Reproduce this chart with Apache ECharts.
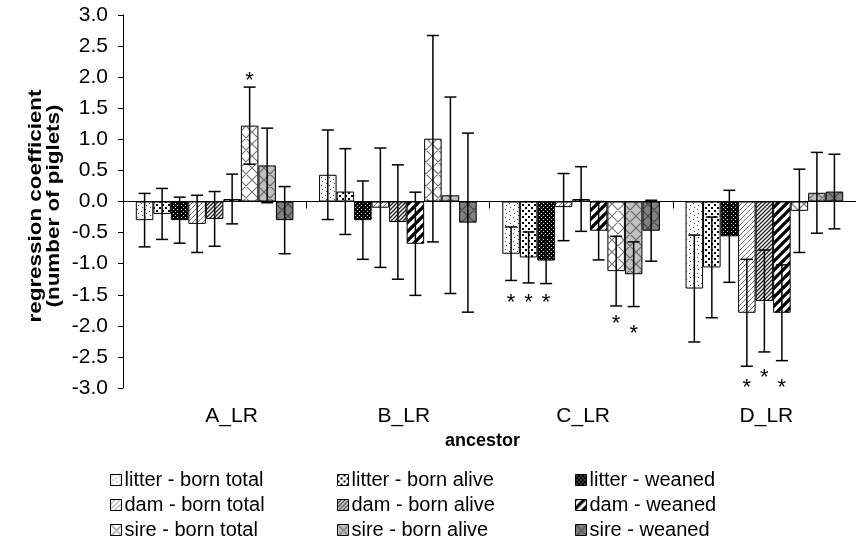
<!DOCTYPE html>
<html>
<head>
<meta charset="utf-8">
<script src="https://cdn.jsdelivr.net/npm/echarts@6/dist/echarts.min.js"></script>
<style>
  html, body { margin: 0; padding: 0; background: #fff; }
  #main { width: 856px; height: 542px; }
</style>
</head>
<body>
<div id="main"></div>
<script>
// categories (ancestors)
const ancestors = ['A_LR', 'B_LR', 'C_LR', 'D_LR'];

// regression coefficients per trait, one value per ancestor
const litterBornTotal = [-0.30, 0.43, -0.84, -1.40];
const litterBornAlive = [-0.20, 0.16, -0.90, -1.06];
const litterWeaned    = [-0.30, -0.30, -0.95, -0.56];
const damBornTotal    = [-0.36, -0.10, -0.09, -1.79];
const damBornAlive    = [-0.28, -0.33, 0.04, -1.60];
const damWeaned       = [0.04, -0.68, -0.47, -1.79];
const sireBornTotal   = [1.22, 1.01, -1.12, -0.15];
const sireBornAlive   = [0.58, 0.10, -1.17, 0.14];
const sireWeaned      = [-0.30, -0.34, -0.47, 0.16];

// error bar half widths
const litterBornTotalErr = [0.43, 0.72, 0.43, 0.86];
const litterBornAliveErr = [0.41, 0.69, 0.41, 0.81];
const litterWeanedErr    = [0.37, 0.63, 0.37, 0.74];
const damBornTotalErr    = [0.46, 0.96, 0.54, 0.86];
const damBornAliveErr    = [0.44, 0.92, 0.52, 0.82];
const damWeanedErr       = [0.40, 0.83, 0.47, 0.77];
const sireBornTotalErr   = [0.62, 1.66, 0.56, 0.67];
const sireBornAliveErr   = [0.60, 1.58, 0.52, 0.65];
const sireWeanedErr      = [0.54, 1.44, 0.49, 0.60];

// significance marks: [ancestor index, series index, value where the star sits]
const stars = [
  [0, 6, 2.0],
  [2, 0, -1.56], [2, 1, -1.56], [2, 2, -1.56],
  [2, 6, -1.91], [2, 7, -2.06],
  [3, 3, -2.93], [3, 4, -2.78], [3, 5, -2.93]
];

const yTicks = { min: -3, max: 3, step: 0.5 };

const seriesNames = [
  'litter - born total', 'litter - born alive', 'litter - weaned',
  'dam - born total', 'dam - born alive', 'dam - weaned',
  'sire - born total', 'sire - born alive', 'sire - weaned'
];
const seriesValues = [litterBornTotal, litterBornAlive, litterWeaned,
  damBornTotal, damBornAlive, damWeaned, sireBornTotal, sireBornAlive, sireWeaned];
const seriesErrors = [litterBornTotalErr, litterBornAliveErr, litterWeanedErr,
  damBornTotalErr, damBornAliveErr, damWeanedErr, sireBornTotalErr, sireBornAliveErr, sireWeanedErr];

// ---- fill patterns ----
function tile(w, h, bg, draw) {
  const c = document.createElement('canvas');
  c.width = w; c.height = h;
  const g = c.getContext('2d');
  g.fillStyle = bg;
  g.fillRect(0, 0, w, h);
  draw(g, w, h);
  return { image: c, repeat: 'repeat' };
}
function dots(list, color, size) {
  return g => {
    g.fillStyle = color;
    list.forEach(p => g.fillRect(p[0], p[1], size, size));
  };
}
function diag(color, width, both) {
  return (g, s) => {
    g.strokeStyle = color;
    g.lineWidth = width;
    g.beginPath();
    for (let k = -1; k <= 1; k++) {
      g.moveTo(k * s - 1, s + 1); g.lineTo(k * s + s + 1, -1);
      if (both) { g.moveTo(k * s - 1, -1); g.lineTo(k * s + s + 1, s + 1); }
    }
    g.stroke();
  };
}
const patterns = [
  tile(8, 8, '#fff', dots([[1, 1], [5, 3], [2, 5], [6, 7]], '#444', 1)),
  tile(6, 6, '#fff', dots([[0, 0], [3, 3]], '#000', 2)),
  tile(4, 4, '#000', dots([[1, 1], [3, 3]], '#ddd', 1)),
  tile(5, 5, '#fff', diag('#777', 1, false)),
  tile(4, 4, '#fff', diag('#222', 1.3, false)),
  tile(9, 9, '#fff', diag('#000', 3.2, false)),
  tile(12, 12, '#fff', diag('#777', 1.2, true)),
  tile(12, 12, '#c0c0c0', diag('#666', 1.2, true)),
  tile(12, 12, '#808080', diag('#444', 1.2, true))
];

const CAT_GAP = 0.14;
const FONT = 'Liberation Sans';

function barOffset(api, s) {
  const band = api.size([1, 0])[0];
  const w = band * (1 - CAT_GAP) / seriesNames.length;
  return (s - (seriesNames.length - 1) / 2) * w;
}

const errData = [];
seriesValues.forEach((vals, s) => {
  vals.forEach((v, c) => errData.push([c, s, v - seriesErrors[s][c], v + seriesErrors[s][c]]));
});

const barSeries = seriesNames.map((name, s) => ({
  name: name,
  type: 'bar',
  xAxisIndex: 0,
  data: seriesValues[s],
  barGap: '0%',
  barCategoryGap: (CAT_GAP * 100) + '%',
  itemStyle: { color: patterns[s], borderColor: '#000', borderWidth: 1 },
  emphasis: { disabled: true },
  z: 2
}));

const labelShift = [17, 6, 2, 2];
const rich = {};
labelShift.forEach((d, i) => {
  rich['p' + i] = { fontFamily: FONT, fontSize: 21, color: '#000', padding: [0, 0, 0, 2 * d] };
});

const option = {
  animation: false,
  backgroundColor: '#fff',
  grid: { left: 123, right: -6, top: 15, bottom: 154 },
  xAxis: [{
    type: 'category',
    data: ancestors,
    axisLine: { onZero: true, lineStyle: { color: '#000', width: 1 } },
    axisTick: { show: true, interval: 0, length: 7, lineStyle: { color: '#000' } },
    axisLabel: { show: false },
    splitLine: { show: false }
  }, {
    type: 'category',
    data: ancestors,
    position: 'bottom',
    axisLine: { show: false, onZero: false },
    axisTick: { show: false },
    axisLabel: {
      margin: 18,
      formatter: (v, i) => '{p' + i + '|' + v + '}',
      rich: rich
    },
    name: 'ancestor',
    nameLocation: 'middle',
    nameGap: 28,
    nameTextStyle: { fontFamily: FONT, fontWeight: 'bold', fontSize: 18, color: '#000', padding: [0, 14, 0, 0] }
  }],
  yAxis: {
    type: 'value',
    min: yTicks.min, max: yTicks.max, interval: yTicks.step,
    axisLine: { show: true, lineStyle: { color: '#000', width: 1 } },
    axisTick: { show: true, length: 5, lineStyle: { color: '#000' } },
    axisLabel: {
      margin: 15, fontFamily: FONT, fontSize: 21, color: '#000',
      formatter: v => v.toFixed(1)
    },
    splitLine: { show: false }
  },
  legend: [0, 1, 2].map(col => ({
    orient: 'vertical',
    left: [110, 337, 575][col],
    top: 469,
    padding: 0,
    itemGap: 3,
    itemWidth: 11,
    itemHeight: 11,
    icon: 'rect',
    selectedMode: false,
    data: [seriesNames[col], seriesNames[col + 3], seriesNames[col + 6]],
    textStyle: { fontFamily: FONT, fontSize: 20, lineHeight: 22, color: '#000', padding: [0, 0, 0, -2] },
    itemStyle: { borderColor: '#000', borderWidth: 1 }
  })),
  graphic: [{
    type: 'text',
    x: 45, y: 206,
    rotation: Math.PI / 2,
    scaleX: 1.18,
    style: {
      text: 'regression coefficient\n(number of piglets)',
      font: 'bold 19px "Liberation Sans"',
      align: 'center', verticalAlign: 'middle',
      lineHeight: 18,
      fill: '#000'
    }
  }],
  series: barSeries.concat([{
    type: 'custom',
    name: 'errors',
    xAxisIndex: 0,
    data: errData,
    z: 5,
    silent: true,
    encode: { x: 0, y: [2, 3] },
    renderItem: (params, api) => {
      const c = api.value(0), s = api.value(1);
      const x = api.coord([c, 0])[0] + barOffset(api, s);
      const lo = api.coord([c, api.value(2)])[1];
      const hi = api.coord([c, api.value(3)])[1];
      const st = { stroke: '#000', lineWidth: 1.5 };
      return {
        type: 'group',
        children: [
          { type: 'line', shape: { x1: x, y1: lo, x2: x, y2: hi }, style: st },
          { type: 'line', shape: { x1: x - 6, y1: lo, x2: x + 6, y2: lo }, style: st },
          { type: 'line', shape: { x1: x - 6, y1: hi, x2: x + 6, y2: hi }, style: st }
        ]
      };
    }
  }, {
    type: 'custom',
    name: 'stars',
    xAxisIndex: 0,
    data: stars,
    z: 6,
    silent: true,
    encode: { x: 0, y: 2 },
    renderItem: (params, api) => {
      const c = api.value(0), s = api.value(1);
      const x = api.coord([c, 0])[0] + barOffset(api, s);
      const y = api.coord([c, api.value(2)])[1] + 4;
      return {
        type: 'text',
        x: x, y: y,
        style: { text: '*', font: '22px "Liberation Sans"', align: 'center', verticalAlign: 'middle', fill: '#000' }
      };
    }
  }])
};

const chart = echarts.init(document.getElementById('main'));
chart.setOption(option);
</script>
</body>
</html>
